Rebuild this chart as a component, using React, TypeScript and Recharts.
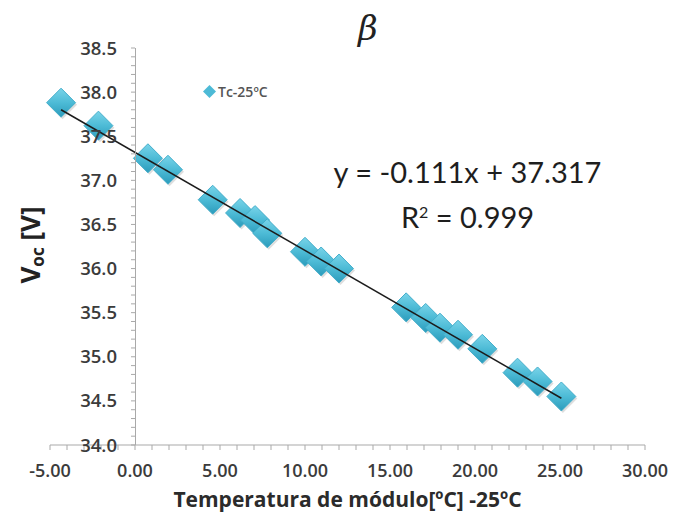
import { ScatterChart, Scatter, XAxis, YAxis, Legend } from "recharts";

// module temperature minus 25 ºC, and measured Voc
const tempDelta = [-4.35, -2.15, 0.76, 1.94, 4.57, 6.18, 7.06, 7.78, 10.0, 10.95, 12.0, 15.95, 17.1, 17.94, 19.0, 20.43, 22.5, 23.68, 25.08];
const vocValues = [37.88, 37.62, 37.25, 37.12, 36.78, 36.63, 36.55, 36.4, 36.19, 36.08, 36.0, 35.56, 35.44, 35.33, 35.25, 35.09, 34.82, 34.72, 34.55];

// linear trendline endpoints (y = -0.111x + 37.317)
const trendX = [-4.35, 25.08];
const trendY = [37.8, 34.53];

const xTicks = [-5, -4, -3, -2, -1, 0, 1, 2, 3, 4, 5, 6, 7, 8, 9, 10, 11, 12, 13, 14, 15, 16, 17, 18, 19, 20, 21, 22, 23, 24, 25, 26, 27, 28, 29, 30];
const yTicks = [34.0, 34.1, 34.2, 34.3, 34.4, 34.5, 34.6, 34.7, 34.8, 34.9, 35.0, 35.1, 35.2, 35.3, 35.4, 35.5, 35.6, 35.7, 35.8, 35.9, 36.0, 36.1, 36.2, 36.3, 36.4, 36.5, 36.6, 36.7, 36.8, 36.9, 37.0, 37.1, 37.2, 37.3, 37.4, 37.5, 37.6, 37.7, 37.8, 37.9, 38.0, 38.1, 38.2, 38.3, 38.4, 38.5];

const seriesName = "Tc-25ºC";

const W = 688;
const H = 512;
const Y_AXIS_W = 10;
const M = { top: 48, right: 43, left: 50 - Y_AXIS_W, bottom: 0 };
const X_MIN = -5;
const X_MAX = 30;
const PLOT_W = W - 50 - M.right;
// the vertical axis crosses at x = 0, like Excel does
const Y_AXIS_SHIFT = ((0 - X_MIN) / (X_MAX - X_MIN)) * PLOT_W;

const points = tempDelta.map((x, i) => ({ x, y: vocValues[i] }));
const trend = trendX.map((x, i) => ({ x, y: trendY[i] }));

const tickFont = "'Open Sans', sans-serif";
const textColor = "#3b3b3b";
const axisColor = "#a9a9a9";

const XTick = (props: any) => {
  const { x, y, payload } = props;
  const major = Math.abs(payload.value % 5) < 1e-6;
  return (
    <g>
      <line x1={x} x2={x} y1={y} y2={y + 5} stroke={axisColor} />
      {major && (
        <text x={x} y={y + 32} textAnchor="middle" fontSize={18} fontWeight={600} fill={textColor} fontFamily={tickFont}>
          {payload.value.toFixed(2)}
        </text>
      )}
    </g>
  );
};

const YTick = (props: any) => {
  const { y, payload } = props;
  const ax = 50 + Y_AXIS_SHIFT;
  const major = Math.abs(Math.round(payload.value * 10) % 5) === 0;
  return (
    <g>
      <line x1={ax - 4} x2={ax} y1={y} y2={y} stroke={axisColor} />
      {major && (
        <text x={ax - 18} y={y + 6.5} textAnchor="end" fontSize={18.5} fontWeight={600} fill={textColor} fontFamily={tickFont}>
          {payload.value.toFixed(1)}
        </text>
      )}
    </g>
  );
};

const Diamond = (props: any) => {
  const { cx, cy } = props;
  const r = 14.5;
  const pts = (dx: number, dy: number) =>
    `${cx + dx},${cy + dy - r} ${cx + dx + r},${cy + dy} ${cx + dx},${cy + dy + r} ${cx + dx - r},${cy + dy}`;
  return (
    <g>
      <polygon points={pts(1.5, 2)} fill="rgba(0,0,0,0.13)" />
      <polygon points={pts(0, 0)} fill="url(#diamondFill)" stroke="#44aecb" strokeWidth={1} />
    </g>
  );
};

const LegendContent = () => (
  <div style={{ display: "flex", alignItems: "center", fontFamily: tickFont, fontSize: 14, fontWeight: 600, color: "#555" }}>
    <svg width={13} height={13} style={{ marginRight: 2 }}>
      <polygon points="6.5,0 13,6.5 6.5,13 0,6.5" fill="#4dbad6" />
    </svg>
    {seriesName}
  </div>
);

export default function App() {
  return (
    <div style={{ position: "absolute", left: 0, top: 0, width: W, height: H, background: "#fff" }}>
      <ScatterChart width={W} height={H} margin={M}>
        <defs>
          <linearGradient id="diamondFill" x1="0" y1="0" x2="0" y2="1">
            <stop offset="0%" stopColor="#79d4e9" />
            <stop offset="50%" stopColor="#4dbbd6" />
            <stop offset="100%" stopColor="#2b9bbb" />
          </linearGradient>
        </defs>
        <XAxis
          type="number"
          dataKey="x"
          domain={[X_MIN, X_MAX]}
          ticks={xTicks}
          interval={0}
          height={H - 445}
          tickSize={0}
          tickMargin={0}
          tickLine={false}
          tick={XTick}
          axisLine={{ stroke: axisColor }}
          label={{
            value: "Temperatura de módulo[ºC] -25ºC",
            position: "insideBottom",
            offset: 5,
            style: { fontFamily: tickFont, fontSize: 21, fontWeight: 700, fill: "#2b2b2b" },
          }}
        />
        <YAxis
          type="number"
          dataKey="y"
          domain={[34, 38.5]}
          ticks={yTicks}
          interval={0}
          width={Y_AXIS_W}
          tickSize={0}
          tickMargin={0}
          tickLine={false}
          axisLine={false}
          tick={YTick}
        />
        <Scatter name={seriesName} data={points} shape={Diamond} isAnimationActive={false} />
        <Scatter
          data={trend}
          line={{ stroke: "#1c1c1c", strokeWidth: 1.5 }}
          shape={() => <g />}
          legendType="none"
          isAnimationActive={false}
        />
        <Legend
          layout="horizontal"
          verticalAlign="middle"
          align="center"
          content={LegendContent}
          wrapperStyle={{ top: 82, left: 203, width: "auto" }}
        />
      </ScatterChart>
      {/* vertical axis line at x = 0 */}
      <div style={{ position: "absolute", left: 50 + Y_AXIS_SHIFT, top: M.top, width: 1, height: 445 - M.top, background: axisColor }} />
      <div style={{ position: "absolute", left: 358, top: 8, fontFamily: "'DejaVu Serif', serif", fontStyle: "italic", fontSize: 34, color: "#222" }}>
        β
      </div>
      <div style={{ position: "absolute", left: 300, width: 335, top: 152, textAlign: "center", fontFamily: "Lato, sans-serif", fontSize: 29, color: "#1e1e1e", lineHeight: "40px" }}>
        <div>y = -0.111x + 37.317</div>
        <div>
          R<sup style={{ fontSize: 16, verticalAlign: "10px" }}>2</sup> = 0.999
        </div>
      </div>
      <div
        style={{
          position: "absolute",
          left: 30,
          top: 245,
          transform: "translate(-50%, -50%) rotate(-90deg)",
          whiteSpace: "nowrap",
          fontFamily: tickFont,
          fontWeight: 700,
          fontSize: 26,
          color: "#222",
        }}
      >
        V<sub style={{ fontSize: 17, verticalAlign: "-4px" }}>oc</sub> [V]
      </div>
    </div>
  );
}
